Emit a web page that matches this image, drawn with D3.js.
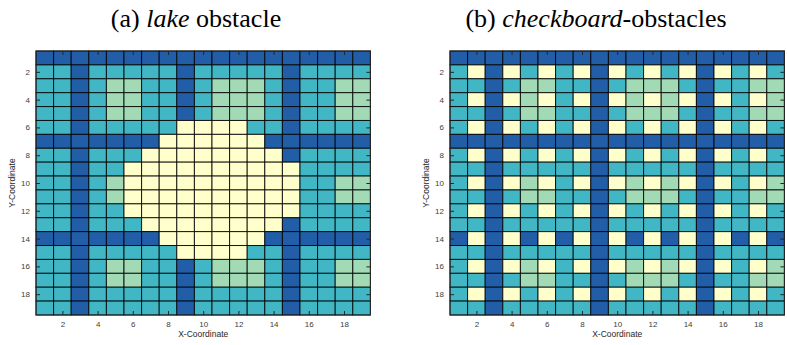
<!DOCTYPE html>
<html>
<head>
<meta charset="utf-8">
<script src="https://cdn.jsdelivr.net/npm/d3@7"></script>
<style>
  html, body { margin: 0; padding: 0; background: #fff; }
  svg { display: block; }
</style>
</head>
<body>
<svg id="chart" width="787" height="345"></svg>
<script>
// Cell codes: 0 = free (yellow), 1 = green, 2 = teal, 3 = obstacle/blue
const lakeRows = [
  "3333333333333333333",
  "2232222232222232222",
  "2232112232111232211",
  "2232112232111232211",
  "2232112232111232211",
  "2232222200002232222",
  "3333333000000333333",
  "2232220000000032222",
  "2232200000000002222",
  "2232100000000002211",
  "2232100000000002211",
  "2232200000000002222",
  "2232220000000032222",
  "3333333000000333333",
  "2232222200002232222",
  "2232112232111232211",
  "2232112232111232211",
  "2232222232222232222",
  "2232222232222232222"
];
const checkRows = [
  "3333333333333333333",
  "2030202030202030202",
  "2232112232111232211",
  "2030102030101030201",
  "2232112232111232211",
  "2030202030202030202",
  "3333333333333333333",
  "2030202030202030202",
  "2232222232222232222",
  "2030102030101030201",
  "2232112232111232211",
  "2030202030202030202",
  "2232222232222232222",
  "3030303030303030303",
  "2232222232222232222",
  "2030102030101030201",
  "2232112232111232211",
  "2030202030202030202",
  "2232222232222232222"
];
const xTicks = [2, 4, 6, 8, 10, 12, 14, 16, 18];
const yTicks = [2, 4, 6, 8, 10, 12, 14, 16, 18];
const levelColors = ["#ffffcc", "#a1dab4", "#41b6c4", "#225ea8"];
const panelTitles = [
  { pre: "(a) ", it: "lake", post: " obstacle" },
  { pre: "(b) ", it: "checkboard", post: "-obstacles" }
];

const svg = d3.select("#chart");
const color = d3.scaleOrdinal().domain([0, 1, 2, 3]).range(levelColors);

const panels = [
  { rows: lakeRows, x0: 36, x1: 370.4, title: panelTitles[0], tx: 196 },
  { rows: checkRows, x0: 450, x1: 784.4, title: panelTitles[1], tx: 596 }
];
const yTop = 51, yBot = 315;

panels.forEach(p => {
  const n = p.rows[0].length, m = p.rows.length;
  const x = d3.scaleLinear().domain([0.5, n + 0.5]).range([p.x0, p.x1]);
  const y = d3.scaleLinear().domain([0.5, m + 0.5]).range([yTop, yBot]);
  const cells = [];
  p.rows.forEach((r, i) => r.split("").forEach((c, j) => cells.push({ col: j + 1, row: i + 1, v: +c })));

  const g = svg.append("g");
  g.selectAll("rect.cell").data(cells).join("rect")
    .attr("class", "cell")
    .attr("x", d => x(d.col - 0.5))
    .attr("y", d => y(d.row - 0.5))
    .attr("width", x(1.5) - x(0.5))
    .attr("height", y(1.5) - y(0.5))
    .attr("fill", d => color(d.v))
    .attr("stroke", "#000")
    .attr("stroke-opacity", 0.85)
    .attr("stroke-width", 1);

  const axStyle = sel => {
    sel.select(".domain").remove();
    sel.selectAll(".tick line").attr("stroke", "#262626");
    sel.selectAll(".tick text").attr("fill", "#404040")
      .style("font-family", "'Liberation Sans', Arial, sans-serif").style("font-size", "8px");
  };
  g.append("g").attr("transform", `translate(0,${yBot})`)
    .call(d3.axisBottom(x).tickValues(xTicks).tickSizeInner(-4).tickSizeOuter(0).tickPadding(6))
    .call(axStyle);
  g.append("g").attr("transform", `translate(0,${yTop})`)
    .call(d3.axisTop(x).tickValues(xTicks).tickSizeInner(-4).tickSizeOuter(0).tickFormat(""))
    .call(axStyle);
  g.append("g").attr("transform", `translate(${p.x0},0)`)
    .call(d3.axisLeft(y).tickValues(yTicks).tickSizeInner(-4).tickSizeOuter(0).tickPadding(6))
    .call(axStyle);
  g.append("g").attr("transform", `translate(${p.x1},0)`)
    .call(d3.axisRight(y).tickValues(yTicks).tickSizeInner(-4).tickSizeOuter(0).tickFormat(""))
    .call(axStyle);

  g.append("rect")
    .attr("x", p.x0).attr("y", yTop)
    .attr("width", p.x1 - p.x0).attr("height", yBot - yTop)
    .attr("fill", "none").attr("stroke", "#262626").attr("stroke-width", 1);

  g.append("text")
    .attr("x", (p.x0 + p.x1) / 2).attr("y", 337)
    .attr("text-anchor", "middle")
    .style("font-family", "'Liberation Sans', Arial, sans-serif").style("font-size", "8.5px")
    .attr("fill", "#262626")
    .text("X-Coordinate");
  g.append("text")
    .attr("transform", `translate(${p.x0 - 21},${(yTop + yBot) / 2}) rotate(-90)`)
    .attr("text-anchor", "middle")
    .style("font-family", "'Liberation Sans', Arial, sans-serif").style("font-size", "8.5px")
    .attr("fill", "#262626")
    .text("Y-Coordinate");

  const t = svg.append("text")
    .attr("x", p.tx).attr("y", 27)
    .attr("text-anchor", "middle")
    .style("font-family", "'Liberation Serif', 'Times New Roman', serif").style("font-size", "26px")
    .attr("fill", "#000");
  t.append("tspan").text(p.title.pre);
  t.append("tspan").style("font-style", "italic").text(p.title.it);
  t.append("tspan").text(p.title.post);
});
</script>
</body>
</html>
